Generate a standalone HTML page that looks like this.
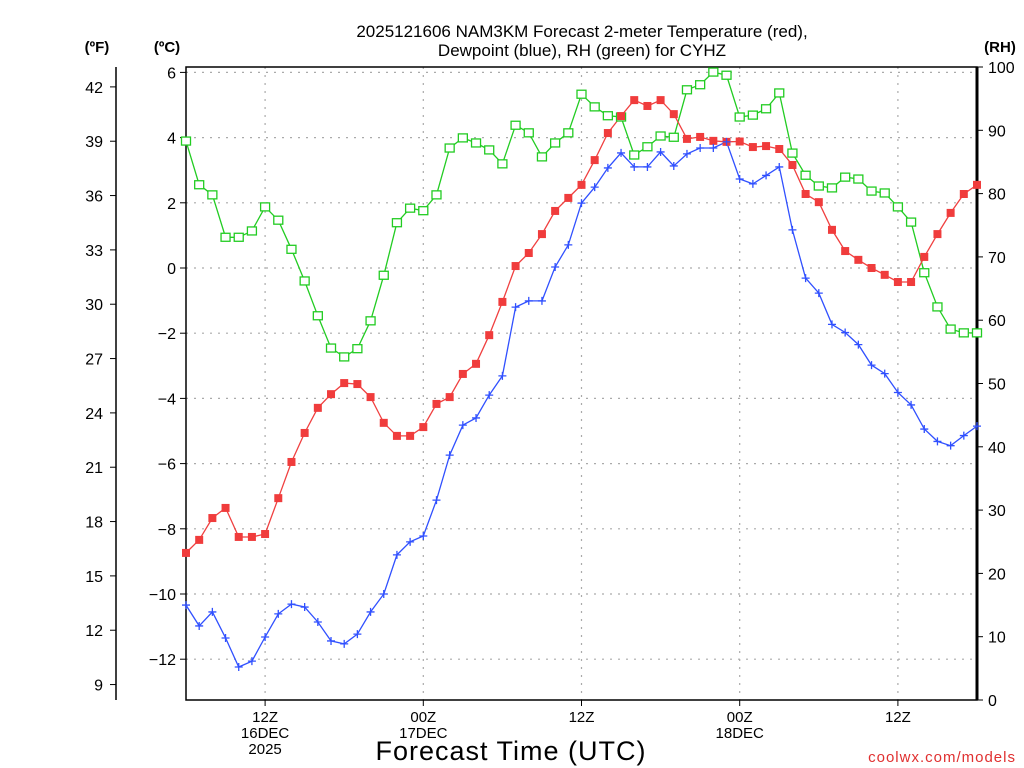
<!DOCTYPE html>
<html><head><meta charset="utf-8"><style>
html,body{margin:0;padding:0;background:#fff;}
svg{display:block;font-family:"Liberation Sans",sans-serif;}
</style></head><body>
<svg id="chart" width="1024" height="768" xmlns="http://www.w3.org/2000/svg">
<rect width="1024" height="768" fill="#fff"/>
<text x="582" y="37" font-size="17" text-anchor="middle" font-family="Liberation Sans, sans-serif">2025121606 NAM3KM Forecast 2-meter Temperature (red),</text>
<text x="582" y="56" font-size="17" text-anchor="middle">Dewpoint (blue), RH (green) for CYHZ</text>
<text x="97" y="52" font-size="15" font-weight="bold" text-anchor="middle">(ºF)</text>
<text x="167" y="52" font-size="15" font-weight="bold" text-anchor="middle">(ºC)</text>
<text x="1000" y="52" font-size="15" font-weight="bold" text-anchor="middle">(RH)</text>
<text x="511" y="760" font-size="27" text-anchor="middle" letter-spacing="1">Forecast Time (UTC)</text>
<text x="1016" y="762" font-size="15" fill="#e03030" text-anchor="end" letter-spacing="1">coolwx.com/models</text>
<g id="grid"></g><g id="axes"></g><g id="series"></g>
</svg>
<script>
const tempC=[-8.74,-8.34,-7.67,-7.36,-8.25,-8.25,-8.16,-7.06,-5.95,-5.06,-4.29,-3.87,-3.53,-3.56,-3.96,-4.75,-5.15,-5.15,-4.88,-4.17,-3.96,-3.25,-2.94,-2.06,-1.04,0.06,0.46,1.04,1.75,2.15,2.55,3.31,4.14,4.66,5.15,4.97,5.15,4.72,3.96,4.02,3.90,3.87,3.88,3.71,3.74,3.65,3.16,2.27,2.02,1.17,0.52,0.25,0,-0.21,-0.43,-0.43,0.34,1.04,1.69,2.27,2.55];
const dewC=[-10.34,-10.98,-10.55,-11.35,-12.24,-12.06,-11.32,-10.61,-10.31,-10.40,-10.86,-11.44,-11.53,-11.23,-10.55,-10.0,-8.80,-8.40,-8.22,-7.12,-5.74,-4.82,-4.60,-3.90,-3.31,-1.20,-1.01,-1.01,0.03,0.71,1.99,2.48,3.07,3.53,3.10,3.10,3.56,3.13,3.50,3.68,3.68,3.87,2.73,2.58,2.84,3.10,1.17,-0.31,-0.77,-1.73,-1.98,-2.35,-2.98,-3.24,-3.82,-4.20,-4.94,-5.32,-5.45,-5.14,-4.85];
const rh=[88.3,81.4,79.8,73.1,73.1,74.1,77.9,75.8,71.2,66.2,60.7,55.6,54.2,55.5,59.9,67.1,75.4,77.7,77.3,79.8,87.2,88.8,88.0,86.9,84.7,90.8,89.6,85.8,88.0,89.6,95.7,93.7,92.3,92.1,86.1,87.4,89.1,88.9,96.4,97.2,99.2,98.7,92.1,92.4,93.4,95.9,86.4,82.9,81.2,80.9,82.6,82.3,80.4,80.1,77.9,75.5,67.5,62.1,58.6,58.0,58.0];
const cTicks=[6,4,2,0,-2,-4,-6,-8,-10,-12];
const fTicks=[42,39,36,33,30,27,24,21,18,15,12,9];
const rhTicks=[100,90,80,70,60,50,40,30,20,10,0];
const xTickHours=[6,18,30,42,54];
const xTickLabels=[["12Z","16DEC","2025"],["00Z","17DEC"],["12Z"],["00Z","18DEC"],["12Z"]];
const X0=186,X1=977,Y0=67,Y1=700;
const xs=h=>X0+(X1-X0)*h/60;
const yC=c=>268-c*32.6;
const yF=f=>yC((f-32)*5/9);
const yR=r=>Y1-(Y1-Y0)*r/100;
const NS="http://www.w3.org/2000/svg";
function mk(tag,attrs,parent,text){const e=document.createElementNS(NS,tag);for(const k in attrs)e.setAttribute(k,attrs[k]);if(text!==undefined)e.textContent=text;parent.appendChild(e);return e;}
const grid=document.getElementById('grid'),axes=document.getElementById('axes'),ser=document.getElementById('series');
cTicks.forEach(c=>{const y=yC(c);
 const g=mk('line',{x1:X0,x2:X1,y1:y,y2:y,stroke:'#aaa','stroke-width':1.2,'stroke-dasharray':'2,6'},grid);
 
 mk('line',{x1:X0-6,x2:X0,y1:y,y2:y,stroke:'#000','stroke-width':1},axes);
 const t=mk('text',{x:176,y:y+6,'font-size':16,'text-anchor':'end'},axes,c<0?'\u2212'+(-c):String(c));
 });
xTickHours.forEach((h,i)=>{const x=xs(h);
 const g=mk('line',{x1:x,x2:x,y1:Y0,y2:Y1,stroke:'#aaa','stroke-width':1.2,'stroke-dasharray':'2,6'},grid);
 
 mk('line',{x1:x,x2:x,y1:Y1,y2:Y1+6,stroke:'#000'},axes);
 xTickLabels[i].forEach((s,j)=>{const t=mk('text',{x:x,y:722+j*16,'font-size':15,'text-anchor':'middle'},axes,s);
 });});
mk('line',{x1:116,x2:116,y1:67,y2:700,stroke:'#000','stroke-width':1.5},axes);
fTicks.forEach(f=>{const y=yF(f);mk('line',{x1:110,x2:116,y1:y,y2:y,stroke:'#000'},axes);
 const t=mk('text',{x:103,y:y+6,'font-size':16,'text-anchor':'end'},axes,String(f));
 });
rhTicks.forEach(r=>{const y=yR(r);mk('line',{x1:X1,x2:X1+6,y1:y,y2:y,stroke:'#000'},axes);
 const t=mk('text',{x:988,y:y+6,'font-size':16},axes,String(r));
 });
const fr=mk('rect',{x:X0,y:Y0,width:X1-X0,height:Y1-Y0,fill:'none',stroke:'#000','stroke-width':1.5},axes);

mk('line',{x1:X1,x2:X1,y1:Y0,y2:Y1,stroke:'#000','stroke-width':3},axes);
function line(vals,yf,color,name){const p=vals.map((v,i)=>xs(i).toFixed(1)+','+yf(v).toFixed(1)).join(' ');
 const l=mk('polyline',{points:p,fill:'none',stroke:color,'stroke-width':1.3},ser);
 }
line(rh,yR,'#22cc22','rh-line');line(tempC,yC,'#f04040','temperature-line');line(dewC,yC,'#3050ff','dewpoint-line');
rh.forEach((v,i)=>{const m=mk('rect',{x:xs(i)-4.5,y:yR(v)-4,width:9,height:8,fill:'#fff',stroke:'#22cc22','stroke-width':1.3},ser);
 });
tempC.forEach((v,i)=>{const m=mk('rect',{x:xs(i)-4,y:yC(v)-4,width:8,height:8,fill:'#f03c3c'},ser);
 });
dewC.forEach((v,i)=>{const x=xs(i),y=yC(v);
 const m=mk('path',{d:`M${x-4},${y}H${x+4}M${x},${y-4}V${y+4}`,stroke:'#3050ff','stroke-width':1.3,fill:'none'},ser);
 });
</script>
</body></html>
